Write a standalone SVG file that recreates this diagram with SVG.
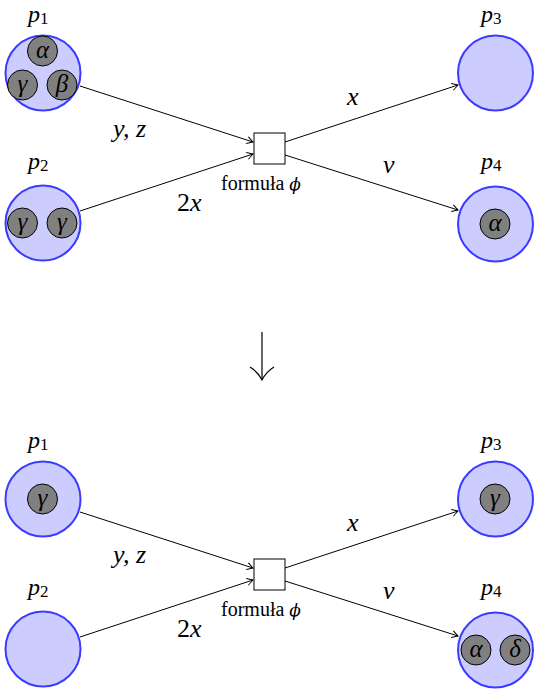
<svg xmlns="http://www.w3.org/2000/svg" width="534" height="691" viewBox="0 0 534 691">
<style>
.place{fill:#ccccff;stroke:#3b3bff;stroke-width:2}
.tok{fill:#808080;stroke:#000;stroke-width:1}
.tr{fill:#fff;stroke:#000;stroke-width:1}
.arc{fill:none;stroke:#000;stroke-width:1;marker-end:url(#ah)}
.m{font-family:"Liberation Serif","DejaVu Serif",serif;font-style:italic;fill:#000}
.lbl{font-size:26px}
.pl{font-size:24px}
.sub{font-size:17px;font-style:normal}
.tk{font-size:25px;text-anchor:middle}
.f{font-family:"Liberation Serif","DejaVu Serif",serif;font-size:20px;fill:#000}
.phi{font-family:"DejaVu Serif",serif;font-style:italic;font-size:17px;fill:#000}
</style>
<defs>
<marker id="ah" viewBox="-8 -5 10 10" markerWidth="10" markerHeight="10" refX="0" refY="0" orient="auto" markerUnits="userSpaceOnUse">
<path d="M-6,-3.5 Q-1.5,-0.8 0,0 Q-1.5,0.8 -6,3.5" fill="none" stroke="#000" stroke-width="1"/>
</marker>
</defs>
<g id="connectors">
<line class="arc" x1="80" y1="86" x2="253" y2="142"/>
<line class="arc" x1="80" y1="211" x2="253" y2="154"/>
<line x1="285" y1="142" x2="458" y2="85" class="arc"/>
<line x1="285" y1="155" x2="458" y2="210" class="arc"/>
<line class="arc" x1="80" y1="512" x2="253" y2="568"/>
<line class="arc" x1="80" y1="637" x2="253" y2="580"/>
<line x1="285" y1="568" x2="458" y2="511" class="arc"/>
<line x1="285" y1="581" x2="458" y2="636" class="arc"/>
<line x1="262" y1="332" x2="262" y2="379" stroke="#000" stroke-width="1.2"/>
<path d="M250,367 Q258,372 262,380 Q266,372 274,367" fill="none" stroke="#000" stroke-width="1.2"/>
</g>
<g id="labels">
<text class="m lbl" x="113" y="137">y, z</text>
<text class="m lbl" x="177" y="211"><tspan font-style="normal">2</tspan>x</text>
<text class="m lbl" x="347" y="105">x</text>
<text class="m lbl" x="383" y="173">v</text>
<text class="f" x="221" y="190">formuła <tspan class="phi">ϕ</tspan></text>
<text class="m lbl" x="113" y="563">y, z</text>
<text class="m lbl" x="177" y="637"><tspan font-style="normal">2</tspan>x</text>
<text class="m lbl" x="347" y="531">x</text>
<text class="m lbl" x="383" y="599">v</text>
<text class="f" x="221" y="616">formuła <tspan class="phi">ϕ</tspan></text>
</g>
<g id="top-p1">
<text class="m pl" x="28" y="22">p<tspan class="sub" dy="2">1</tspan></text>
<circle class="place" cx="43" cy="73" r="37.5"/>
<circle class="tok" cx="42.5" cy="51" r="15"/><text class="m tk" x="42.5" y="58">α</text>
<circle class="tok" cx="22.5" cy="85" r="15"/><text class="m tk" x="22.5" y="92">γ</text>
<circle class="tok" cx="62" cy="85" r="15"/><text class="m tk" x="62" y="92">β</text>
</g>
<g id="top-p2">
<text class="m pl" x="28" y="169">p<tspan class="sub" dy="2">2</tspan></text>
<circle class="place" cx="43" cy="223" r="37.5"/>
<circle class="tok" cx="22.5" cy="223" r="15"/><text class="m tk" x="22.5" y="230">γ</text>
<circle class="tok" cx="62" cy="223" r="15"/><text class="m tk" x="62" y="230">γ</text>
</g>
<g id="top-p3">
<text class="m pl" x="481" y="22">p<tspan class="sub" dy="2">3</tspan></text>
<circle class="place" cx="495.5" cy="73" r="37.5"/>
</g>
<g id="top-p4">
<text class="m pl" x="481" y="169">p<tspan class="sub" dy="2">4</tspan></text>
<circle class="place" cx="495.5" cy="224" r="37.5"/>
<circle class="tok" cx="495" cy="224" r="15"/><text class="m tk" x="495" y="231">α</text>
</g>
<g id="top-t">
<rect class="tr" x="254" y="133" width="31" height="31"/>
</g>
<g id="bot-p1">
<text class="m pl" x="28" y="448">p<tspan class="sub" dy="2">1</tspan></text>
<circle class="place" cx="43" cy="499" r="37.5"/>
<circle class="tok" cx="42.5" cy="499" r="15"/><text class="m tk" x="42.5" y="506">γ</text>
</g>
<g id="bot-p2">
<text class="m pl" x="28" y="595">p<tspan class="sub" dy="2">2</tspan></text>
<circle class="place" cx="43" cy="649" r="37.5"/>
</g>
<g id="bot-p3">
<text class="m pl" x="481" y="448">p<tspan class="sub" dy="2">3</tspan></text>
<circle class="place" cx="495.5" cy="499" r="37.5"/>
<circle class="tok" cx="495" cy="499" r="15"/><text class="m tk" x="495" y="506">γ</text>
</g>
<g id="bot-p4">
<text class="m pl" x="481" y="595">p<tspan class="sub" dy="2">4</tspan></text>
<circle class="place" cx="495.5" cy="650" r="37.5"/>
<circle class="tok" cx="476" cy="650" r="15"/><text class="m tk" x="476" y="657">α</text>
<circle class="tok" cx="515" cy="650" r="15"/><text class="m tk" x="515" y="657">δ</text>
</g>
<g id="bot-t">
<rect class="tr" x="254" y="559" width="31" height="31"/>
</g>
</svg>
